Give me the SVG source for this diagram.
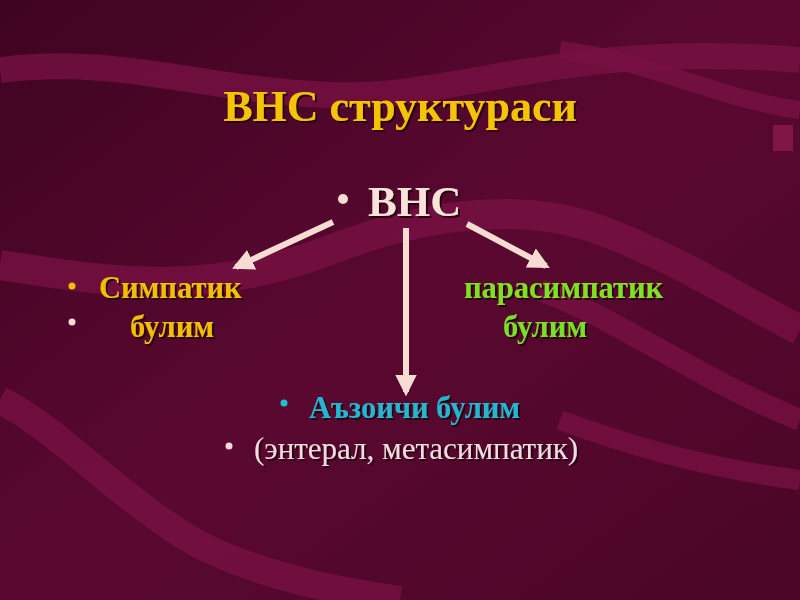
<svg xmlns="http://www.w3.org/2000/svg" width="800" height="600" viewBox="0 0 800 600">
<defs>
<linearGradient id="bg" x1="0" y1="0" x2="1" y2="1">
<stop offset="0" stop-color="#3e0420"/>
<stop offset="0.5" stop-color="#5a0830"/>
<stop offset="1" stop-color="#4a0626"/>
</linearGradient>
<marker id="ah" viewBox="0 0 10 10" refX="8" refY="5" markerWidth="3.6" markerHeight="3.6" orient="auto" markerUnits="strokeWidth">
<path d="M0,0 L10,5 L0,10 Z" fill="#f6dcd2"/>
</marker>
<filter id="sh" x="-5%" y="-20%" width="110%" height="140%">
<feDropShadow dx="2" dy="2" stdDeviation="0.6" flood-color="#200010" flood-opacity="0.9"/>
</filter>
</defs>
<style>
.t{font-family:"Liberation Serif","Times New Roman",serif;font-weight:bold;filter:url(#sh)}
.n{font-family:"Liberation Serif","Times New Roman",serif;filter:url(#sh)}
.wave{fill:none;stroke:#7a1244;stroke-opacity:0.75}
.conn{stroke:#f6dcd2;stroke-width:6;fill:none}
</style>
<rect width="800" height="600" fill="url(#bg)"/>
<g id="background">
<path class="wave" stroke-width="26" d="M0,70 C120,55 200,90 330,95 C460,100 560,40 800,60"/>
<path class="wave" stroke-width="18" d="M560,50 C650,60 720,100 800,110"/>
<path class="wave" stroke-width="30" d="M0,265 C100,280 200,300 330,250 C420,215 520,200 600,230 C680,260 740,300 800,330"/>
<path class="wave" stroke-width="22" d="M540,290 C620,320 700,380 800,420"/>
<path class="wave" stroke-width="28" d="M0,400 C60,430 120,500 200,545 C260,575 330,590 400,600"/>
<path class="wave" stroke-width="20" d="M560,420 C640,450 720,470 800,480"/>
<rect x="773" y="125" width="20" height="26" fill="#8a1a4a" opacity="0.8"/>
</g>
<g id="title">
<text class="t" x="400" y="121" font-size="44" fill="#f5c400" text-anchor="middle">ВНС структураси</text>
</g>
<g id="node-vns">
<circle cx="343" cy="199" r="5" fill="#f6dcd2"/>
<text class="t" x="368" y="216" font-size="43" fill="#f8e2da" font-weight="normal">ВНС</text>
</g>
<g id="connectors">
<line class="conn" x1="333" y1="222" x2="236" y2="267" marker-end="url(#ah)"/>
<line class="conn" x1="406" y1="228" x2="406" y2="392" marker-end="url(#ah)"/>
<line class="conn" x1="467" y1="224" x2="546" y2="266" marker-end="url(#ah)"/>
</g>
<g id="node-simpatik">
<circle cx="72" cy="286" r="3.5" fill="#f0c000"/>
<text class="t" x="99" y="298" font-size="30.5" fill="#f0c000">Симпатик</text>
<circle cx="72" cy="322" r="3.5" fill="#f6dcd2"/>
<text class="t" x="130" y="337" font-size="30.5" fill="#f0c000">булим</text>
</g>
<g id="node-parasimpatik">
<text class="t" x="464" y="298" font-size="30.5" fill="#80e020">парасимпатик</text>
<text class="t" x="503" y="337" font-size="30.5" fill="#78e028">булим</text>
</g>
<g id="node-azoichi">
<circle cx="284" cy="403" r="3.5" fill="#20c0d0"/>
<text class="t" x="309" y="418" font-size="30.5" fill="#20b8d0">Аъзоичи булим</text>
<circle cx="229" cy="446" r="3.5" fill="#f6dcd2"/>
<text class="n" x="254" y="459" font-size="31" fill="#f2dce2">(энтерал, метасимпатик)</text>
</g>
</svg>
